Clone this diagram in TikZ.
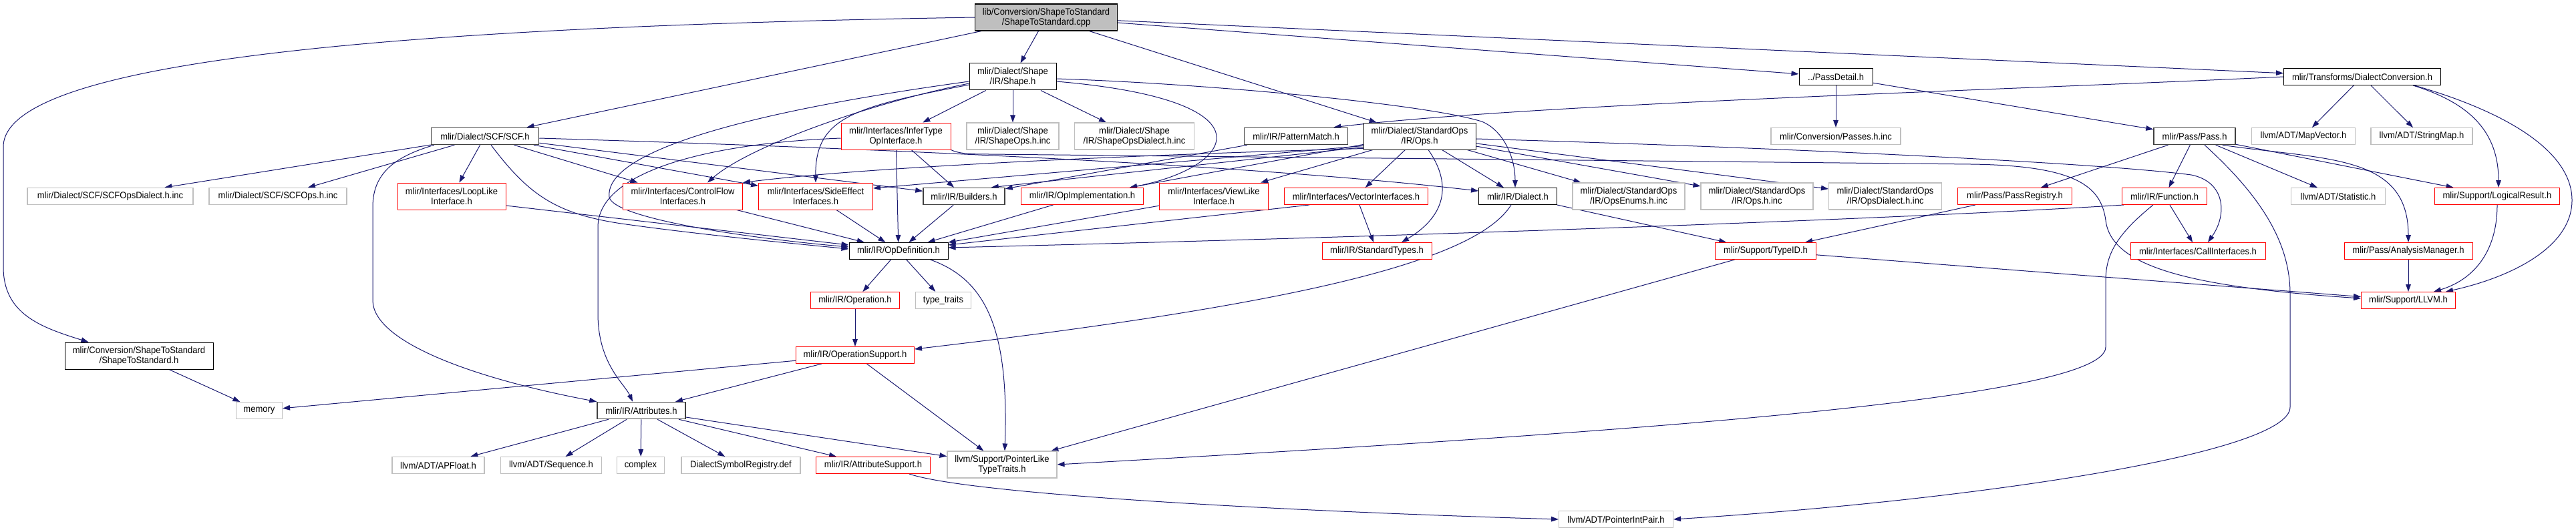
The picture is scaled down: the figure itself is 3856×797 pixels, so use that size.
\documentclass[tikz,border=0pt]{standalone}
\usepackage{fontspec}
\setmainfont{Liberation Sans}[FakeStretch=0.93]
\usetikzlibrary{arrows.meta,calc}
\definecolor{mb}{RGB}{25,25,112}
\definecolor{gs}{RGB}{191,191,191}
\definecolor{dk}{RGB}{64,64,64}
\definecolor{rd}{RGB}{255,0,0}
\pgfdeclarelayer{back}
\pgfdeclarelayer{bg}
\pgfsetlayers{back,bg,main}
\tikzset{
  sz/.style 2 args={minimum width=#1*0.5pt, minimum height=#2*0.5pt},
  every node/.style={font=\fontsize{7}{7.5}\selectfont, align=center, inner sep=0pt, fill=white},
  nblk/.style={draw=black, line width=0.5pt},
  ndk/.style={draw=dk, line width=0.75pt},
  nred/.style={draw=rd, line width=0.5pt},
  ngry/.style={draw=gs, line width=0.55pt},
  nroot/.style={draw=black, line width=0.6pt, fill=gs},
  edg/.style={draw=mb, line width=0.5pt, -{Triangle[length=5.5pt,width=3.8pt]}},
}
\begin{document}
\begin{tikzpicture}[x=0.5pt,y=-0.5pt]
\useasboundingbox (0,0) rectangle (3856,797);
\begin{pgfonlayer}{back}
\fill[white] (0,0) rectangle (3856,797);
\end{pgfonlayer}
% row 0-2
\node[nroot, sz={213}{40}] (root) at (1566,26) {lib/Conversion/ShapeToStandard\\/ShapeToStandard.cpp};
\node[nblk, sz={130}{40}] (shapeh) at (1516,115) {mlir/Dialect/Shape\\/IR/Shape.h};
\node[nblk, sz={110}{25}] (passdetail) at (2748,115) {../PassDetail.h};
\node[nblk, sz={235}{25}] (dconv) at (3536,115) {mlir/Transforms/DialectConversion.h};
\node[ndk, sz={161}{25}] (scfh) at (726,204) {mlir/Dialect/SCF/SCF.h};
\node[nred, sz={164}{40}] (infer) at (1341,204) {mlir/Interfaces/InferType\\OpInterface.h};
\node[ngry, sz={138}{40}] (shapeops) at (1516,204) {mlir/Dialect/Shape\\/IR/ShapeOps.h.inc};
\node[ngry, sz={179}{40}] (shapedial) at (1698,204) {mlir/Dialect/Shape\\/IR/ShapeOpsDialect.h.inc};
\node[ndk, sz={155}{25}] (pattern) at (1940,204) {mlir/IR/PatternMatch.h};
\node[nblk, sz={168}{40}] (opsh) at (2125,204) {mlir/Dialect/StandardOps\\/IR/Ops.h};
\node[ngry, sz={194}{25}] (passes) at (2748,204) {mlir/Conversion/Passes.h.inc};
\node[ndk, sz={122}{25}] (pass) at (3285,204) {mlir/Pass/Pass.h};
\node[ngry, sz={155}{25}] (mapvec) at (3448,204) {llvm/ADT/MapVector.h};
\node[ngry, sz={152}{25}] (strmap) at (3625,204) {llvm/ADT/StringMap.h};
% row 3
\node[ngry, sz={248}{25}] (scfdial) at (165,294) {mlir/Dialect/SCF/SCFOpsDialect.h.inc};
\node[ngry, sz={206}{25}] (scfops) at (416,294) {mlir/Dialect/SCF/SCFOps.h.inc};
\node[nred, sz={162}{40}] (looplike) at (676,294) {mlir/Interfaces/LoopLike\\Interface.h};
\node[nred, sz={179}{40}] (ctrlflow) at (1022,294) {mlir/Interfaces/ControlFlow\\Interfaces.h};
\node[nred, sz={171}{40}] (sideeff) at (1221,294) {mlir/Interfaces/SideEffect\\Interfaces.h};
\node[ndk, sz={122}{25}] (builders) at (1443,294) {mlir/IR/Builders.h};
\node[nred, sz={183}{25}] (opimpl) at (1620,294) {mlir/IR/OpImplementation.h};
\node[nred, sz={163}{40}] (viewlike) at (1817,294) {mlir/Interfaces/ViewLike\\Interface.h};
\node[nred, sz={215}{25}] (vector) at (2030,294) {mlir/Interfaces/VectorInterfaces.h};
\node[nblk, sz={117}{25}] (dialect) at (2272,294) {mlir/IR/Dialect.h};
\node[ngry, sz={168}{40}] (opsenums) at (2438,294) {mlir/Dialect/StandardOps\\/IR/OpsEnums.h.inc};
\node[ngry, sz={168}{40}] (opsinc) at (2630,294) {mlir/Dialect/StandardOps\\/IR/Ops.h.inc};
\node[ngry, sz={169}{40}] (opsdial) at (2822,294) {mlir/Dialect/StandardOps\\/IR/OpsDialect.h.inc};
\node[nred, sz={171}{25}] (passreg) at (3016,294) {mlir/Pass/PassRegistry.h};
\node[nred, sz={127}{25}] (function) at (3240,294) {mlir/IR/Function.h};
\node[ngry, sz={141}{25}] (statistic) at (3500,294) {llvm/ADT/Statistic.h};
\node[nred, sz={187}{25}] (logical) at (3738,294) {mlir/Support/LogicalResult.h};
% row 4
\node[nblk, sz={148}{25}] (opdef) at (1345,376) {mlir/IR/OpDefinition.h};
\node[nred, sz={164}{25}] (stdtypes) at (2061,376) {mlir/IR/StandardTypes.h};
\node[nred, sz={151}{25}] (typeid) at (2643,376) {mlir/Support/TypeID.h};
\node[nred, sz={202}{25}] (callif) at (3290,376) {mlir/Interfaces/CallInterfaces.h};
\node[nred, sz={192}{25}] (analysis) at (3605,376) {mlir/Pass/AnalysisManager.h};
% row 5+
\node[nred, sz={133}{25}] (operation) at (1280,450) {mlir/IR/Operation.h};
\node[ngry, sz={83}{25}] (typetraits) at (1412,450) {type\_traits};
\node[nred, sz={141}{25}] (llvmh) at (3605,450) {mlir/Support/LLVM.h};
\node[nblk, sz={222}{40}] (s2sh) at (208,533) {mlir/Conversion/ShapeToStandard\\/ShapeToStandard.h};
\node[nred, sz={177}{25}] (opsupport) at (1280,532) {mlir/IR/OperationSupport.h};
\node[ngry, sz={69}{25}] (memory) at (388,615) {memory};
\node[ndk, sz={132}{25}] (attrs) at (960,615) {mlir/IR/Attributes.h};
\node[ngry, sz={138}{25}] (apfloat) at (656,697) {llvm/ADT/APFloat.h};
\node[ngry, sz={151}{25}] (sequence) at (825,697) {llvm/ADT/Sequence.h};
\node[ngry, sz={71}{25}] (complex) at (959,697) {complex};
\node[ngry, sz={178}{25}] (dsr) at (1109,697) {DialectSymbolRegistry.def};
\node[nred, sz={171}{25}] (attrsup) at (1307,697) {mlir/IR/AttributeSupport.h};
\node[ngry, sz={164}{40}] (ptrlike) at (1500,696) {llvm/Support/PointerLike\\TypeTraits.h};
\node[ngry, sz={171}{25}] (ptrint) at (2419,778) {llvm/ADT/PointerIntPair.h};

\begin{pgfonlayer}{bg}
% root
\draw[edg] (root.west) .. controls (600,40) and (5,90) .. (5,220) -- (5,400) .. controls (5,470) and (60,490) .. ($(s2sh.north west)+(36,0)$);
\draw[edg] (root) -- (scfh);
\draw[edg] (root) -- (shapeh);
\draw[edg] (root) -- (opsh);
\draw[edg] (root) -- (passdetail);
\draw[edg] (root) -- (dconv);
% shape.h
\draw[edg] (shapeh) -- (infer);
\draw[edg] (shapeh) -- (shapeops);
\draw[edg] (shapeh) -- (shapedial);
\draw[edg] ($(shapeh.east)+(0,7)$) .. controls (1910,150) and (1850,250) .. ($(opimpl.north east)+(-21,0)$);
\draw[edg] ($(shapeh.east)+(0,3)$) .. controls (1800,125) and (2130,155) .. (2218,182) .. controls (2250,195) and (2268,235) .. ($(dialect.north)+(-4,0)$);
\draw[edg] ($(shapeh.west)+(0,10)$) .. controls (1300,155) and (1120,220) .. ($(ctrlflow.north)+(37,0)$);
\draw[edg] ($(shapeh.west)+(0,12)$) .. controls (1280,160) and (1220,175) .. (sideeff.north);
\draw[edg] ($(shapeh.west)+(0,7)$) .. controls (1100,170) and (905,230) .. (912,295) .. controls (916,325) and (1100,355) .. ($(opdef.west)+(0,-6)$);
% infer
\draw[edg] ($(infer.west)+(0,3)$) .. controls (1050,215) and (895,260) .. (895,340) -- (895,470) .. controls (895,545) and (935,575) .. ($(attrs.north)+(-13,0)$);
\draw[edg] (infer) -- (opdef);
\draw[edg] (infer) -- (builders);
\draw[edg] (infer.south east) .. controls (1435,230) and (1450,231) .. (1480,231) -- (2950,246) .. controls (3110,248) and (3145,280) .. (3152,330) .. controls (3160,400) and (3280,430) .. ($(llvmh.west)+(0,-3)$);
% scf
\draw[edg] (scfh) -- (scfdial);
\draw[edg] (scfh) -- (scfops);
\draw[edg] (scfh) -- (looplike);
\draw[edg] ($(scfh.south west)+(5,0)$) .. controls (590,235) and (558,260) .. (558,310) -- (558,450) .. controls (558,510) and (700,565) .. (attrs.north west);
\draw[edg] ($(scfh.south)+(9,0)$) .. controls (790,290) and (830,320) .. (930,335) .. controls (1050,352) and (1200,366) .. ($(opdef.west)+(0,-3)$);
\draw[edg] (scfh) -- (ctrlflow);
\draw[edg] (scfh) -- (sideeff);
\draw[edg] (scfh) -- (builders);
\draw[edg] ($(scfh.east)+(0,3)$) .. controls (1400,225) and (1900,250) .. ($(dialect.west)+(0,-8)$);
% second level
\draw[edg] ($(looplike.east)+(0,14)$) -- ($(opdef.west)+(0,-9)$);
\draw[edg] (ctrlflow) -- (opdef);
\draw[edg] (sideeff) -- (opdef);
\draw[edg] (builders) -- (opdef);
\draw[edg] (opimpl) -- (opdef);
\draw[edg] (viewlike) -- (opdef);
\draw[edg] ($(vector.south west)+(38,0)$) -- ($(opdef.north east)+(0,4)$);
\draw[edg] (vector) -- (stdtypes);
\draw[edg] ($(function.south west)+(3,0)$) .. controls (2900,325) and (2200,352) .. ($(opdef.east)+(0,-5)$);
% ops.h
\draw[edg] ($(opsh.south west)+(0,-4)$) -- ($(builders.north east)+(-21,0)$);
\draw[edg] ($(opsh.south west)+(0,-8)$) -- ($(opimpl.north east)+(-21,0)$);
\draw[edg] (opsh) -- (viewlike);
\draw[edg] ($(opsh.south west)+(0,-6)$) -- ($(sideeff.east)+(0,-12)$);
\draw[edg] ($(opsh.south west)+(0,-2)$) .. controls (1700,232) and (1300,250) .. (ctrlflow.north east);
\draw[edg] (opsh) -- (vector);
\draw[edg] ($(opsh.south)+(13,0)$) .. controls (2170,270) and (2170,320) .. ($(stdtypes.north)+(37,0)$);
\draw[edg] (opsh) -- (dialect);
\draw[edg] (opsh) -- (opsenums);
\draw[edg] (opsh) -- (opsinc);
\draw[edg] (opsh) -- (opsdial);
\draw[edg] ($(opsh.east)+(0,4)$) .. controls (2700,222) and (3150,245) .. (3280,262) .. controls (3330,272) and (3335,320) .. ($(callif.north)+(15,0)$);
% dialect, typeid
\draw[edg] ($(dialect.south)+(-10,0)$) .. controls (2210,390) and (1950,455) .. ($(opsupport.north east)+(0,4)$);
\draw[edg] (dialect) -- (typeid);
\draw[edg] (typeid) -- (llvmh);
\draw[edg] (typeid) -- (ptrlike);
\draw[edg] (passreg) -- (typeid);
% pass
\draw[edg] (pass) -- (passreg);
\draw[edg] (pass) -- (function);
\draw[edg] (pass) -- (statistic);
\draw[edg] (pass) -- (logical);
\draw[edg] ($(pass.south east)+(-20,0)$) .. controls (3480,240) and (3605,230) .. (analysis.north);
\draw[edg] ($(pass.south)+(15,0)$) .. controls (3380,290) and (3428,360) .. (3428,440) -- (3428,610) .. controls (3428,680) and (2950,750) .. (ptrint.east);
% function etc
\draw[edg] (function) -- (callif);
\draw[edg] ($(function.south west)+(47,0)$) .. controls (3170,350) and (3152,380) .. (3152,420) -- (3152,520) .. controls (3152,600) and (2400,650) .. (ptrlike.east);
\draw[edg] (analysis) -- (llvmh);
\draw[edg] (logical.south) .. controls (3738,380) and (3700,420) .. ($(llvmh.north east)+(-33,0)$);
% dconv
\draw[edg] ($(dconv.south east)+(-40,0)$) .. controls (3760,170) and (3850,230) .. (3850,300) .. controls (3850,370) and (3760,415) .. ($(llvmh.north east)+(-15,0)$);
\draw[edg] ($(dconv.south east)+(-42,0)$) .. controls (3700,155) and (3740,200) .. ($(logical.north)+(2,0)$);
\draw[edg] (dconv) -- (mapvec);
\draw[edg] (dconv) -- (strmap);
\draw[edg] (dconv.west) .. controls (3000,135) and (2300,155) .. ($(pattern.north east)+(-22,0)$);
% passdetail, pattern
\draw[edg] (passdetail) -- (passes);
\draw[edg] (passdetail) -- (pass);
\draw[edg] (pattern) -- (builders);
% opdef and below
\draw[edg] (opdef) -- (operation);
\draw[edg] (opdef) -- (typetraits);
\draw[edg] ($(opdef.south east)+(-27,0)$) .. controls (1480,420) and (1510,500) .. ($(ptrlike.north)+(4,0)$);
\draw[edg] (operation) -- (opsupport);
\draw[edg] (opsupport) -- (memory);
\draw[edg] (opsupport) -- (attrs);
\draw[edg] (opsupport) -- (ptrlike);
\draw[edg] (attrs) -- (apfloat);
\draw[edg] (attrs) -- (sequence);
\draw[edg] (attrs) -- (complex);
\draw[edg] (attrs) -- (dsr);
\draw[edg] (attrs) -- (attrsup);
\draw[edg] (attrs) -- (ptrlike);
\draw[edg] ($(attrsup.south)+(54,0)$) .. controls (1450,740) and (1900,765) .. (ptrint.west);
\draw[edg] (s2sh) -- (memory);
\end{pgfonlayer}
\end{tikzpicture}
\end{document}
